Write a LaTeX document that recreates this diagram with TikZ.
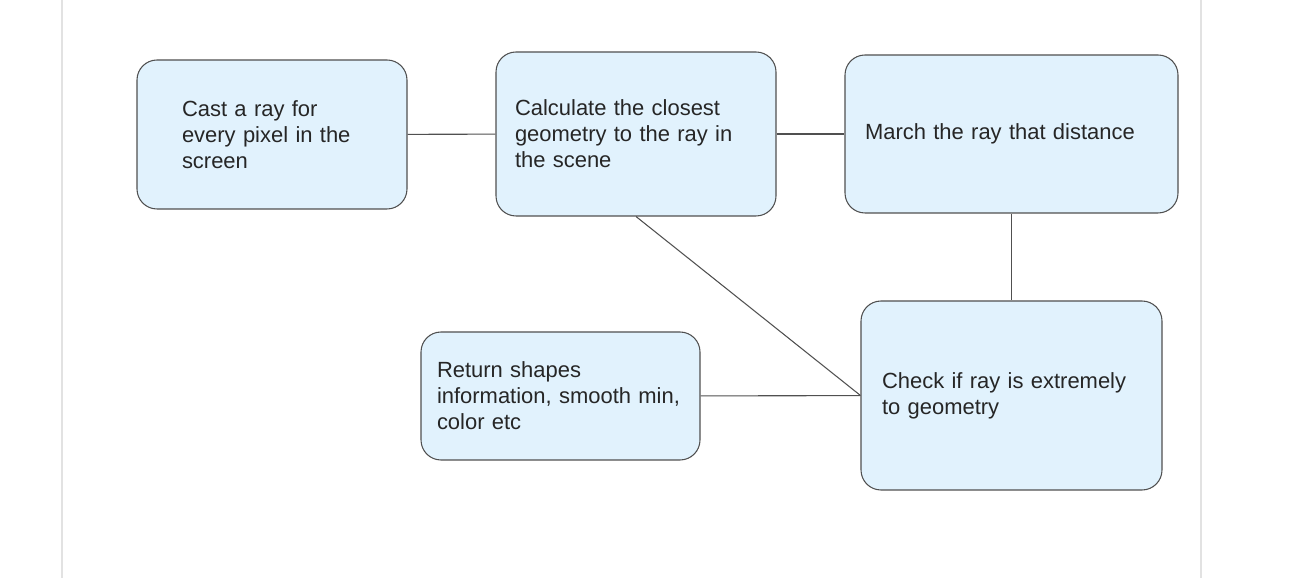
\documentclass[tikz,border=0pt]{standalone}
\usepackage{fontspec}
\setmainfont{Liberation Sans}
\usepackage{tikz}
\usetikzlibrary{positioning}

\definecolor{boxfill}{HTML}{E1F2FD}
\definecolor{boxline}{HTML}{505050}
\definecolor{pageline}{HTML}{E2E2E2}

\begin{document}
\begin{tikzpicture}[
    box/.style={draw=boxline, line width=0.6pt, fill=boxfill, rounded corners=0.4cm, align=left, inner ysep=0pt, text=black!85, font=\fontsize{12.5}{14.8}\selectfont},
    link/.style={draw=boxline, line width=0.6pt}
  ]
    \useasboundingbox (0,0) rectangle (26.12,-11.56);
    \draw[pageline, line width=0.8pt] (1.24,0) -- (1.24,-11.56);
    \draw[pageline, line width=0.8pt] (24.02,0) -- (24.02,-11.56);
    \node[box, inner xsep=0.9cm, text width=3.6cm, minimum height=2.98cm] (cast) at (5.44,-2.69) {Cast a ray for\\every pixel in the\\screen};
    \node[box, inner xsep=0.38cm, text width=4.84cm, minimum height=3.28cm] (closest) at (12.72,-2.68) {Calculate the closest\\geometry to the ray in\\the scene};
    \node[box, inner xsep=0.4cm, text width=5.86cm, minimum height=3.16cm] (march) at (20.23,-2.68) {March the ray that distance};
    \node[box, inner xsep=0.42cm, text width=5.18cm, minimum height=3.78cm] (check) at (20.23,-7.91) {Check if ray is extremely\\to geometry};
    \node[box, inner xsep=0.32cm, text width=4.94cm, minimum height=2.56cm] (shapes) at (11.21,-7.92) {Return shapes\\information, smooth min,\\color etc};
    \draw[link] (cast) -- (closest);
    \draw[link] (closest) -- (march);
    \draw[link] (march) -- (check);
    \draw[link] (closest.south) -- (check.west);
    \draw[link] (shapes) -- (check);
  \end{tikzpicture}
\end{document}
